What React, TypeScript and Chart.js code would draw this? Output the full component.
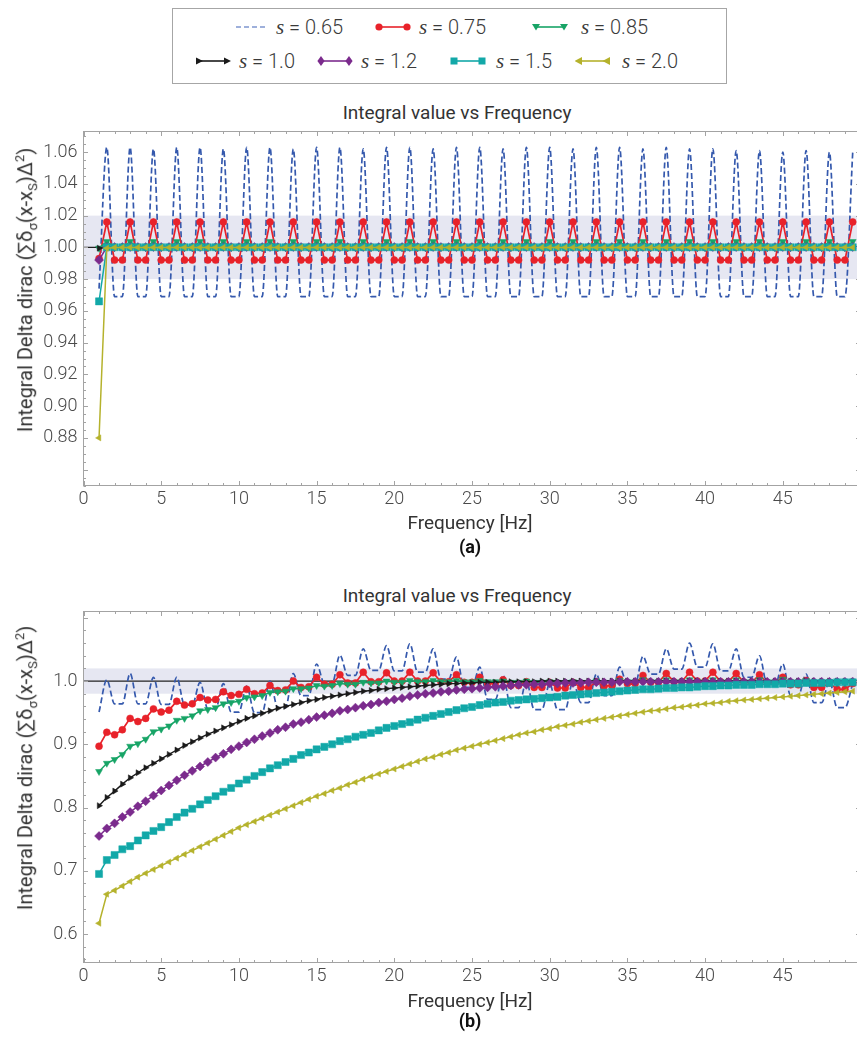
import React, { useEffect, useRef } from 'react';
import { Chart, registerables } from 'chart.js';

Chart.register(...registerables);

// ---------------- data ----------------
const FREQ = [
  1, 1.5, 2, 2.5, 3, 3.5, 4, 4.5, 5, 5.5, 6, 6.5, 7, 7.5, 8, 8.5, 9, 9.5, 10, 10.5,
  11, 11.5, 12, 12.5, 13, 13.5, 14, 14.5, 15, 15.5, 16, 16.5, 17, 17.5, 18, 18.5, 19, 19.5, 20, 20.5,
  21, 21.5, 22, 22.5, 23, 23.5, 24, 24.5, 25, 25.5, 26, 26.5, 27, 27.5, 28, 28.5, 29, 29.5, 30, 30.5,
  31, 31.5, 32, 32.5, 33, 33.5, 34, 34.5, 35, 35.5, 36, 36.5, 37, 37.5, 38, 38.5, 39, 39.5, 40, 40.5,
  41, 41.5, 42, 42.5, 43, 43.5, 44, 44.5, 45, 45.5, 46, 46.5, 47, 47.5, 48, 48.5, 49, 49.5,
];

const LEGEND_LABELS = ['0.65', '0.75', '0.85', '1.0', '1.2', '1.5', '2.0'];
const X_TICKS = [0, 5, 10, 15, 20, 25, 30, 35, 40, 45];
const TOP_Y_TICKS = [0.88, 0.9, 0.92, 0.94, 0.96, 0.98, 1.0, 1.02, 1.04, 1.06];
const BOT_Y_TICKS = [0.6, 0.7, 0.8, 0.9, 1.0];

// (a) top panel
const TOP_S065 = [
  0.974,
  1.063, 0.969, 0.969, 1.063, 0.969, 0.969, 1.062, 0.969, 0.969, 1.063, 0.969, 0.969,
  1.063, 0.969, 0.969, 1.062, 0.969, 0.969, 1.063, 0.969, 0.969, 1.063, 0.969, 0.969,
  1.062, 0.969, 0.969, 1.063, 0.969, 0.969, 1.063, 0.969, 0.969, 1.062, 0.969, 0.969,
  1.063, 0.969, 0.969, 1.063, 0.969, 0.969, 1.062, 0.969, 0.969, 1.063, 0.969, 0.969,
  1.063, 0.969, 0.969, 1.062, 0.969, 0.969, 1.063, 0.969, 0.969, 1.063, 0.969, 0.969,
  1.062, 0.969, 0.969, 1.063, 0.969, 0.969, 1.063, 0.969, 0.969, 1.062, 0.969, 0.969,
  1.063, 0.969, 0.969, 1.062, 0.969, 0.969, 1.062, 0.969, 0.969, 1.061, 0.969, 0.969,
  1.061, 0.969, 0.969, 1.060, 0.969, 0.969, 1.061, 0.969, 0.969, 1.060, 0.969, 0.969,
  1.060,
];
const TOP_S075 = [
  0.993,
  1.016, 0.992, 0.992, 1.016, 0.992, 0.992, 1.016, 0.992, 0.992, 1.016, 0.992, 0.992,
  1.016, 0.992, 0.992, 1.016, 0.992, 0.992, 1.016, 0.992, 0.992, 1.016, 0.992, 0.992,
  1.016, 0.992, 0.992, 1.016, 0.992, 0.992, 1.016, 0.992, 0.992, 1.016, 0.992, 0.992,
  1.016, 0.992, 0.992, 1.016, 0.992, 0.992, 1.016, 0.992, 0.992, 1.016, 0.992, 0.992,
  1.016, 0.992, 0.992, 1.016, 0.992, 0.992, 1.016, 0.992, 0.992, 1.016, 0.992, 0.992,
  1.016, 0.992, 0.992, 1.016, 0.992, 0.992, 1.016, 0.992, 0.992, 1.016, 0.992, 0.992,
  1.016, 0.992, 0.992, 1.016, 0.992, 0.992, 1.016, 0.992, 0.992, 1.016, 0.992, 0.992,
  1.016, 0.992, 0.992, 1.016, 0.992, 0.992, 1.016, 0.992, 0.992, 1.016, 0.992, 0.992,
  1.016,
];
const TOP_S085 = [
  0.9995,
  1.0037, 0.9997, 0.9997, 1.0037, 0.9997, 0.9997, 1.0037, 0.9997, 0.9997, 1.0037, 0.9997, 0.9997,
  1.0037, 0.9997, 0.9997, 1.0037, 0.9997, 0.9997, 1.0037, 0.9997, 0.9997, 1.0037, 0.9997, 0.9997,
  1.0037, 0.9997, 0.9997, 1.0037, 0.9997, 0.9997, 1.0037, 0.9997, 0.9997, 1.0037, 0.9997, 0.9997,
  1.0037, 0.9997, 0.9997, 1.0037, 0.9997, 0.9997, 1.0037, 0.9997, 0.9997, 1.0037, 0.9997, 0.9997,
  1.0037, 0.9997, 0.9997, 1.0037, 0.9997, 0.9997, 1.0037, 0.9997, 0.9997, 1.0037, 0.9997, 0.9997,
  1.0037, 0.9997, 0.9997, 1.0037, 0.9997, 0.9997, 1.0037, 0.9997, 0.9997, 1.0037, 0.9997, 0.9997,
  1.0037, 0.9997, 0.9997, 1.0037, 0.9997, 0.9997, 1.0037, 0.9997, 0.9997, 1.0037, 0.9997, 0.9997,
  1.0037, 0.9997, 0.9997, 1.0037, 0.9997, 0.9997, 1.0037, 0.9997, 0.9997, 1.0037, 0.9997, 0.9997,
  1.0037,
];
const TOP_S10 = [
  0.9995,
  1.0, 1.0, 1.0, 1.0, 1.0, 1.0, 1.0, 1.0, 1.0, 1.0, 1.0, 1.0,
  1.0, 1.0, 1.0, 1.0, 1.0, 1.0, 1.0, 1.0, 1.0, 1.0, 1.0, 1.0,
  1.0, 1.0, 1.0, 1.0, 1.0, 1.0, 1.0, 1.0, 1.0, 1.0, 1.0, 1.0,
  1.0, 1.0, 1.0, 1.0, 1.0, 1.0, 1.0, 1.0, 1.0, 1.0, 1.0, 1.0,
  1.0, 1.0, 1.0, 1.0, 1.0, 1.0, 1.0, 1.0, 1.0, 1.0, 1.0, 1.0,
  1.0, 1.0, 1.0, 1.0, 1.0, 1.0, 1.0, 1.0, 1.0, 1.0, 1.0, 1.0,
  1.0, 1.0, 1.0, 1.0, 1.0, 1.0, 1.0, 1.0, 1.0, 1.0, 1.0, 1.0,
  1.0, 1.0, 1.0, 1.0, 1.0, 1.0, 1.0, 1.0, 1.0, 1.0, 1.0, 1.0,
  1.0,
];
const TOP_S12 = [
  0.992,
  1.0002, 1.0002, 1.0002, 1.0002, 1.0002, 1.0002, 1.0002, 1.0002, 1.0002, 1.0002, 1.0002, 1.0002,
  1.0002, 1.0002, 1.0002, 1.0002, 1.0002, 1.0002, 1.0002, 1.0002, 1.0002, 1.0002, 1.0002, 1.0002,
  1.0002, 1.0002, 1.0002, 1.0002, 1.0002, 1.0002, 1.0002, 1.0002, 1.0002, 1.0002, 1.0002, 1.0002,
  1.0002, 1.0002, 1.0002, 1.0002, 1.0002, 1.0002, 1.0002, 1.0002, 1.0002, 1.0002, 1.0002, 1.0002,
  1.0002, 1.0002, 1.0002, 1.0002, 1.0002, 1.0002, 1.0002, 1.0002, 1.0002, 1.0002, 1.0002, 1.0002,
  1.0002, 1.0002, 1.0002, 1.0002, 1.0002, 1.0002, 1.0002, 1.0002, 1.0002, 1.0002, 1.0002, 1.0002,
  1.0002, 1.0002, 1.0002, 1.0002, 1.0002, 1.0002, 1.0002, 1.0002, 1.0002, 1.0002, 1.0002, 1.0002,
  1.0002, 1.0002, 1.0002, 1.0002, 1.0002, 1.0002, 1.0002, 1.0002, 1.0002, 1.0002, 1.0002, 1.0002,
  1.0002,
];
const TOP_S15 = [
  0.966,
  1.0001, 1.0001, 1.0001, 1.0001, 1.0001, 1.0001, 1.0001, 1.0001, 1.0001, 1.0001, 1.0001, 1.0001,
  1.0001, 1.0001, 1.0001, 1.0001, 1.0001, 1.0001, 1.0001, 1.0001, 1.0001, 1.0001, 1.0001, 1.0001,
  1.0001, 1.0001, 1.0001, 1.0001, 1.0001, 1.0001, 1.0001, 1.0001, 1.0001, 1.0001, 1.0001, 1.0001,
  1.0001, 1.0001, 1.0001, 1.0001, 1.0001, 1.0001, 1.0001, 1.0001, 1.0001, 1.0001, 1.0001, 1.0001,
  1.0001, 1.0001, 1.0001, 1.0001, 1.0001, 1.0001, 1.0001, 1.0001, 1.0001, 1.0001, 1.0001, 1.0001,
  1.0001, 1.0001, 1.0001, 1.0001, 1.0001, 1.0001, 1.0001, 1.0001, 1.0001, 1.0001, 1.0001, 1.0001,
  1.0001, 1.0001, 1.0001, 1.0001, 1.0001, 1.0001, 1.0001, 1.0001, 1.0001, 1.0001, 1.0001, 1.0001,
  1.0001, 1.0001, 1.0001, 1.0001, 1.0001, 1.0001, 1.0001, 1.0001, 1.0001, 1.0001, 1.0001, 1.0001,
  1.0001,
];
const TOP_S20 = [
  0.880,
  0.9995, 1.0, 1.0, 1.0, 1.0, 1.0, 1.0, 1.0, 1.0, 1.0, 1.0, 1.0,
  1.0, 1.0, 1.0, 1.0, 1.0, 1.0, 1.0, 1.0, 1.0, 1.0, 1.0, 1.0,
  1.0, 1.0, 1.0, 1.0, 1.0, 1.0, 1.0, 1.0, 1.0, 1.0, 1.0, 1.0,
  1.0, 1.0, 1.0, 1.0, 1.0, 1.0, 1.0, 1.0, 1.0, 1.0, 1.0, 1.0,
  1.0, 1.0, 1.0, 1.0, 1.0, 1.0, 1.0, 1.0, 1.0, 1.0, 1.0, 1.0,
  1.0, 1.0, 1.0, 1.0, 1.0, 1.0, 1.0, 1.0, 1.0, 1.0, 1.0, 1.0,
  1.0, 1.0, 1.0, 1.0, 1.0, 1.0, 1.0, 1.0, 1.0, 1.0, 1.0, 1.0,
  1.0, 1.0, 1.0, 1.0, 1.0, 1.0, 1.0, 1.0, 1.0, 1.0, 1.0, 1.0,
  1.0,
];

// (b) bottom panel
const BOT_S065 = [
  0.951,
  1.002, 0.964, 0.964, 1.012, 0.964, 0.964, 1.006, 0.963, 0.963, 1.006, 0.962, 0.962,
  0.998, 0.956, 0.956, 0.996, 0.951, 0.951, 0.992, 0.950, 0.950, 1.000, 0.958, 0.958,
  1.012, 0.977, 0.977, 1.027, 0.996, 0.996, 1.041, 1.009, 1.009, 1.051, 1.017, 1.017,
  1.056, 1.016, 1.016, 1.059, 1.014, 1.014, 1.051, 1.003, 1.003, 1.038, 0.990, 0.990,
  1.022, 0.971, 0.971, 1.009, 0.958, 0.958, 1.000, 0.955, 0.955, 0.996, 0.955, 0.955,
  1.000, 0.966, 0.966, 1.011, 0.977, 0.977, 1.022, 0.995, 0.995, 1.039, 1.011, 1.011,
  1.051, 1.019, 1.019, 1.060, 1.022, 1.022, 1.059, 1.016, 1.016, 1.051, 1.006, 1.006,
  1.040, 0.993, 0.993, 1.027, 0.977, 0.977, 1.011, 0.966, 0.966, 1.000, 0.958, 0.958,
  0.996,
];
const BOT_S075 = [
  0.897,
  0.919, 0.915, 0.923, 0.941, 0.936, 0.941, 0.956, 0.951, 0.954, 0.968, 0.962, 0.964,
  0.974, 0.970, 0.971, 0.983, 0.977, 0.979, 0.987, 0.980, 0.981, 0.993, 0.985, 0.986,
  1.000, 0.990, 0.991, 1.006, 0.995, 0.995, 1.010, 0.997, 0.997, 1.014, 0.999, 0.999,
  1.013, 1.000, 1.000, 1.014, 1.000, 1.000, 1.013, 0.999, 0.999, 1.010, 0.998, 0.998,
  1.006, 0.996, 0.996, 1.002, 0.993, 0.993, 0.999, 0.990, 0.990, 0.998, 0.989, 0.989,
  0.998, 0.990, 0.990, 0.999, 0.992, 0.993, 1.003, 0.996, 0.996, 1.009, 0.998, 0.998,
  1.012, 0.999, 0.999, 1.014, 1.000, 1.000, 1.014, 0.999, 0.999, 1.012, 0.998, 0.998,
  1.010, 0.997, 0.997, 1.006, 0.994, 0.994, 1.001, 0.990, 0.990, 0.997, 0.987, 0.987,
  0.996,
];
const BOT_S085 = [
  0.857,
  0.870, 0.876, 0.884, 0.897, 0.901, 0.908, 0.920, 0.924, 0.929, 0.938, 0.941, 0.945,
  0.953, 0.955, 0.958, 0.964, 0.966, 0.968, 0.974, 0.975, 0.977, 0.982, 0.983, 0.984,
  0.988, 0.988, 0.989, 0.993, 0.992, 0.993, 0.996, 0.995, 0.995, 0.998, 0.997, 0.997,
  1.000, 0.998, 0.998, 1.001, 0.999, 0.999, 1.001, 0.999, 0.999, 1.001, 0.999, 0.999,
  1.001, 0.999, 0.999, 1.000, 0.998, 0.998, 1.000, 0.998, 0.998, 0.999, 0.998, 0.998,
  0.999, 0.998, 0.998, 1.000, 0.998, 0.998, 1.001, 0.999, 0.999, 1.002, 0.999, 0.999,
  1.002, 0.999, 0.999, 1.002, 0.999, 0.999, 1.002, 0.999, 0.999, 1.002, 0.999, 0.999,
  1.002, 0.999, 0.999, 1.003, 0.999, 0.999, 1.001, 0.998, 0.998, 0.999, 0.997, 0.997,
  0.999,
];
const BOT_S10 = [
  0.803,
  0.816, 0.826, 0.837, 0.847, 0.855, 0.863, 0.870, 0.877, 0.884, 0.891, 0.898, 0.904,
  0.910, 0.916, 0.921, 0.926, 0.931, 0.936, 0.941, 0.945, 0.949, 0.953, 0.957, 0.960,
  0.963, 0.966, 0.969, 0.971, 0.974, 0.976, 0.978, 0.980, 0.982, 0.984, 0.985, 0.987,
  0.988, 0.989, 0.990, 0.991, 0.992, 0.993, 0.994, 0.995, 0.996, 0.996, 0.997, 0.997,
  0.998, 0.998, 0.998, 0.999, 0.999, 0.999, 0.999, 0.999, 1.000, 1.000, 1.000, 1.000,
  1.000, 1.000, 1.000, 1.000, 1.000, 1.000, 1.000, 1.000, 1.000, 1.000, 1.000, 1.000,
  1.000, 1.000, 1.000, 1.000, 1.000, 1.000, 1.000, 1.000, 1.000, 1.000, 1.000, 1.000,
  1.000, 1.000, 1.000, 1.000, 1.000, 1.000, 1.000, 1.000, 1.000, 1.000, 1.000, 1.000,
  1.000,
];
const BOT_S12 = [
  0.755,
  0.767, 0.775, 0.785, 0.793, 0.802, 0.810, 0.819, 0.827, 0.835, 0.843, 0.851, 0.858,
  0.865, 0.872, 0.879, 0.885, 0.892, 0.897, 0.903, 0.908, 0.913, 0.918, 0.923, 0.927,
  0.932, 0.935, 0.939, 0.943, 0.946, 0.949, 0.953, 0.955, 0.958, 0.961, 0.963, 0.966,
  0.968, 0.971, 0.973, 0.976, 0.978, 0.980, 0.981, 0.983, 0.984, 0.986, 0.987, 0.988,
  0.989, 0.990, 0.991, 0.992, 0.993, 0.994, 0.994, 0.995, 0.995, 0.996, 0.996, 0.997,
  0.997, 0.997, 0.998, 0.998, 0.998, 0.998, 0.999, 0.999, 0.999, 0.999, 0.999, 0.999,
  0.999, 0.999, 0.999, 0.999, 0.999, 0.999, 0.999, 0.999, 0.999, 0.999, 0.999, 0.999,
  0.999, 0.999, 0.999, 0.999, 0.999, 0.999, 0.999, 0.999, 0.999, 0.999, 0.999, 0.999,
  0.999,
];
const BOT_S15 = [
  0.695,
  0.717, 0.725, 0.734, 0.739, 0.748, 0.756, 0.763, 0.769, 0.777, 0.785, 0.792, 0.798,
  0.805, 0.812, 0.818, 0.825, 0.831, 0.838, 0.844, 0.850, 0.856, 0.862, 0.867, 0.872,
  0.877, 0.883, 0.887, 0.892, 0.896, 0.900, 0.905, 0.908, 0.912, 0.915, 0.918, 0.922,
  0.926, 0.929, 0.932, 0.935, 0.939, 0.942, 0.945, 0.948, 0.951, 0.954, 0.957, 0.959,
  0.962, 0.964, 0.966, 0.967, 0.969, 0.970, 0.971, 0.972, 0.973, 0.974, 0.975, 0.977,
  0.978, 0.979, 0.980, 0.981, 0.982, 0.983, 0.984, 0.985, 0.986, 0.987, 0.987, 0.988,
  0.989, 0.989, 0.990, 0.990, 0.991, 0.992, 0.992, 0.993, 0.993, 0.994, 0.994, 0.994,
  0.995, 0.995, 0.995, 0.996, 0.996, 0.996, 0.997, 0.997, 0.997, 0.997, 0.998, 0.998,
  0.998,
];
const BOT_S20 = [
  0.617,
  0.663, 0.669, 0.676, 0.683, 0.690, 0.696, 0.702, 0.708, 0.714, 0.720, 0.726, 0.732,
  0.738, 0.744, 0.750, 0.756, 0.762, 0.768, 0.773, 0.778, 0.783, 0.788, 0.793, 0.798,
  0.803, 0.808, 0.813, 0.818, 0.822, 0.827, 0.831, 0.836, 0.840, 0.845, 0.849, 0.853,
  0.857, 0.861, 0.865, 0.869, 0.873, 0.877, 0.880, 0.884, 0.887, 0.891, 0.894, 0.897,
  0.900, 0.903, 0.906, 0.909, 0.912, 0.915, 0.918, 0.920, 0.923, 0.925, 0.928, 0.930,
  0.932, 0.935, 0.937, 0.939, 0.941, 0.943, 0.945, 0.947, 0.949, 0.951, 0.953, 0.954,
  0.956, 0.958, 0.959, 0.961, 0.962, 0.964, 0.965, 0.966, 0.968, 0.969, 0.970, 0.971,
  0.972, 0.973, 0.974, 0.975, 0.976, 0.977, 0.978, 0.979, 0.980, 0.981, 0.982, 0.983,
  0.984,
];

// ---------------- styles ----------------
const FONT = 'Roboto, "Open Sans", sans-serif';
const STYLES: any[] = [
  { color: '#3559ad', legend: '#7f97cf', width: 1.7, dash: [6, 3], point: false, radius: 0, rot: 0, marker: 'none' },
  { color: '#e8222a', width: 1.7, point: 'circle', radius: 3.5, rot: 0, marker: 'circle' },
  { color: '#17a466', width: 1.5, point: 'triangle', radius: 4, rot: 180, marker: 'tri-down' },
  { color: '#1a1a1a', width: 1.4, point: 'triangle', radius: 3.5, rot: 90, marker: 'tri-right' },
  { color: '#7b2b8d', width: 1.5, point: 'rectRot', radius: 4.5, rot: 0, marker: 'diamond' },
  { color: '#12a8a8', width: 1.5, point: 'rect', radius: 5, rot: 0, marker: 'square' },
  { color: '#b5b22c', width: 1.5, point: 'triangle', radius: 3.5, rot: -90, marker: 'tri-left' },
];

function buildDatasets(series: number[][]) {
  return STYLES.map((st, k) => ({
    label: 's = ' + LEGEND_LABELS[k],
    data: FREQ.map((f, i) => ({ x: f, y: series[k][i] })),
    borderColor: st.color,
    backgroundColor: st.color,
    borderWidth: st.width,
    borderDash: st.dash || [],
    pointStyle: st.point,
    pointRadius: st.radius,
    pointRotation: st.rot,
    pointBorderWidth: 0.5,
    pointBorderColor: st.color,
    pointBackgroundColor: st.color,
    cubicInterpolationMode: st.dash ? 'monotone' : 'default',
    tension: 0,
    order: 6 - k,
  }));
}

const framePlugin = {
  id: 'frame',
  beforeDatasetsDraw(chart: any, _a: any, o: any) {
    const { ctx, chartArea: a } = chart;
    const y = chart.scales.y;
    ctx.save();
    ctx.beginPath();
    ctx.rect(a.left, a.top, a.right - a.left, a.bottom - a.top);
    ctx.clip();
    const yt = y.getPixelForValue(o.bandHi);
    const yb = y.getPixelForValue(o.bandLo);
    ctx.fillStyle = '#e6e7f2';
    ctx.fillRect(a.left, yt, a.right - a.left, yb - yt);
    const yr = y.getPixelForValue(o.refValue);
    ctx.strokeStyle = '#222222';
    ctx.lineWidth = 1.3;
    ctx.beginPath();
    ctx.moveTo(a.left, yr);
    ctx.lineTo(a.right, yr);
    ctx.stroke();
    ctx.restore();
  },
  afterDatasetsDraw(chart: any, _a: any, o: any) {
    const { ctx, chartArea: a } = chart;
    const x = chart.scales.x;
    const y = chart.scales.y;
    ctx.save();
    ctx.strokeStyle = '#a3a3a3';
    ctx.lineWidth = 1;
    ctx.strokeRect(a.left, a.top, a.right - a.left, a.bottom - a.top);
    const seg = (x1: number, y1: number, x2: number, y2: number) => {
      ctx.beginPath();
      ctx.moveTo(x1, y1);
      ctx.lineTo(x2, y2);
      ctx.stroke();
    };
    const k0 = Math.ceil(x.min / o.xMinor - 1e-9);
    const k1 = Math.floor(x.max / o.xMinor + 1e-9);
    for (let k = k0; k <= k1; k++) {
      const px = Math.round(x.getPixelForValue(k * o.xMinor)) + 0.5;
      const len = k % o.xRatio === 0 ? 4.5 : 2.5;
      seg(px, a.bottom, px, a.bottom - len);
      seg(px, a.top, px, a.top + len);
    }
    const j0 = Math.ceil(y.min / o.yMinor - 1e-9);
    const j1 = Math.floor(y.max / o.yMinor + 1e-9);
    for (let j = j0; j <= j1; j++) {
      const py = Math.round(y.getPixelForValue(j * o.yMinor)) + 0.5;
      const len = j % o.yRatio === 0 ? 4.5 : 2.5;
      seg(a.left, py, a.left + len, py);
      seg(a.right, py, a.right - len, py);
    }
    ctx.restore();
  },
};

function makeConfig(series: number[][], yMin: number, yMax: number, yTicks: number[], dec: number,
  xAxisH: number, yMinor: number, yRatio: number): any {
  return {
    type: 'line',
    data: { datasets: buildDatasets(series) },
    plugins: [framePlugin],
    options: {
      responsive: false,
      animation: false,
      devicePixelRatio: 1,
      events: [],
      layout: { padding: { top: 31.5, right: 3, left: 0, bottom: 0 } },
      plugins: {
        legend: { display: false },
        tooltip: { enabled: false },
        title: { display: false },
        frame: { bandLo: 0.98, bandHi: 1.02, refValue: 1.0, xMinor: 1, xRatio: 5, yMinor, yRatio },
      },
      scales: {
        x: {
          type: 'linear',
          min: 0,
          max: 50,
          grid: { display: false, drawTicks: false },
          border: { display: false },
          ticks: {
            color: '#4a4a4a',
            font: { family: FONT, size: 18, weight: '300' },
            padding: 3,
            maxRotation: 0,
            autoSkip: false,
            callback: (v: any) => String(v),
          },
          afterBuildTicks: (s: any) => { s.ticks = X_TICKS.map((v) => ({ value: v })); },
          afterFit: (s: any) => { s.height = xAxisH; },
        },
        y: {
          type: 'linear',
          min: yMin,
          max: yMax,
          grid: { display: false, drawTicks: false },
          border: { display: false },
          ticks: {
            color: '#4a4a4a',
            font: { family: FONT, size: 18, weight: '300' },
            padding: 6,
            autoSkip: false,
            callback: (v: any) => Number(v).toFixed(dec),
          },
          afterBuildTicks: (s: any) => { s.ticks = yTicks.map((v) => ({ value: v })); },
          afterFit: (s: any) => { s.width = 83.5; },
        },
      },
    },
  };
}

function ChartCanvas({ top, height, config }: { top: number; height: number; config: () => any }) {
  const ref = useRef<HTMLCanvasElement>(null);
  useEffect(() => {
    const chart = new Chart(ref.current as HTMLCanvasElement, config());
    return () => chart.destroy();
  }, []);
  return (
    <canvas
      ref={ref}
      width={866}
      height={height}
      style={{ position: 'absolute', left: 0, top, width: 866, height }}
    />
  );
}

function Marker({ kind, cx, cy, color }: { kind: string; cx: number; cy: number; color: string }) {
  switch (kind) {
    case 'circle':
      return <circle cx={cx} cy={cy} r={3.6} fill={color} />;
    case 'square':
      return <rect x={cx - 3.5} y={cy - 3.5} width={7} height={7} fill={color} />;
    case 'diamond':
      return <polygon points={`${cx},${cy - 5} ${cx + 3.6},${cy} ${cx},${cy + 5} ${cx - 3.6},${cy}`} fill={color} />;
    case 'tri-down':
      return <polygon points={`${cx - 4},${cy - 3} ${cx + 4},${cy - 3} ${cx},${cy + 3.5}`} fill={color} />;
    case 'tri-right':
      return <polygon points={`${cx - 3},${cy - 3.5} ${cx - 3},${cy + 3.5} ${cx + 4},${cy}`} fill={color} />;
    case 'tri-left':
      return <polygon points={`${cx + 3},${cy - 4} ${cx + 3},${cy + 4} ${cx - 4.5},${cy}`} fill={color} />;
    default:
      return null;
  }
}

const LEG_POS = [
  { row: 0, sx: 233, tx: 276 },
  { row: 0, sx: 375, tx: 419 },
  { row: 0, sx: 532, tx: 581 },
  { row: 1, sx: 195, tx: 239 },
  { row: 1, sx: 317, tx: 361 },
  { row: 1, sx: 450, tx: 496 },
  { row: 1, sx: 575, tx: 622 },
];
const ROW_Y = [27, 61];

function Legend() {
  return (
    <div>
      <div
        style={{
          position: 'absolute', left: 172, top: 8, width: 553, height: 74,
          border: '1.5px solid #a6a6a6', boxSizing: 'content-box',
        }}
      />
      {STYLES.map((st, k) => {
        const p = LEG_POS[k];
        const cy = ROW_Y[p.row];
        const col = st.legend || st.color;
        return (
          <React.Fragment key={k}>
            <svg width={36} height={14} style={{ position: 'absolute', left: p.sx, top: cy - 7 }}>
              <line x1={3} y1={7} x2={33} y2={7} stroke={col} strokeWidth={1.6}
                strokeDasharray={st.dash ? '5 3' : undefined} />
              <Marker kind={st.marker} cx={4} cy={7} color={col} />
              <Marker kind={st.marker} cx={32} cy={7} color={col} />
            </svg>
            <div
              style={{
                position: 'absolute', left: p.tx, top: cy - 13, height: 26, lineHeight: '26px',
                whiteSpace: 'nowrap', color: '#3a3a3a', fontFamily: FONT, fontWeight: 300, fontSize: 20,
              }}
            >
              <span style={{ fontFamily: '"Liberation Serif", "DejaVu Serif", serif', fontStyle: 'italic', fontSize: 21 }}>s</span>
              {' = ' + LEGEND_LABELS[k]}
            </div>
          </React.Fragment>
        );
      })}
    </div>
  );
}

function CenterText({ x, y, size, bold, children }: any) {
  return (
    <div
      style={{
        position: 'absolute', left: x, top: y, transform: 'translate(-50%, -50%)',
        whiteSpace: 'nowrap', fontFamily: FONT, fontSize: size, fontWeight: bold ? 700 : 400,
        color: bold ? '#111' : '#333', lineHeight: 1,
      }}
    >
      {children}
    </div>
  );
}

function YTitle({ y }: { y: number }) {
  return (
    <div
      style={{
        position: 'absolute', left: 26, top: y, transform: 'translate(-50%, -50%) rotate(-90deg)',
        whiteSpace: 'nowrap', fontFamily: FONT, fontSize: 20, color: '#333', lineHeight: 1,
      }}
    >
      Integral Delta dirac (∑δ<sub style={{ fontSize: '0.65em' }}>σ</sub>(x-x<sub style={{ fontSize: '0.65em' }}>S</sub>)Δ<sup style={{ fontSize: '0.65em' }}>2</sup>)
    </div>
  );
}

export default function App() {
  const topSeries = [TOP_S065, TOP_S075, TOP_S085, TOP_S10, TOP_S12, TOP_S15, TOP_S20];
  const botSeries = [BOT_S065, BOT_S075, BOT_S085, BOT_S10, BOT_S12, BOT_S15, BOT_S20];
  return (
    <div style={{ position: 'absolute', left: 0, top: 0, width: 857, height: 1042, overflow: 'hidden', background: '#fff' }}>
      <Legend />
      <CenterText x={457} y={112} size={19}>Integral value vs Frequency</CenterText>
      <ChartCanvas top={100} height={416}
        config={() => makeConfig(topSeries, 0.85, 1.073, TOP_Y_TICKS, 2, 30.5, 0.005, 4)} />
      <YTitle y={290} />
      <CenterText x={470} y={522} size={19}>Frequency [Hz]</CenterText>
      <CenterText x={470} y={547} size={18} bold>(a)</CenterText>

      <CenterText x={457} y={595} size={19}>Integral value vs Frequency</CenterText>
      <ChartCanvas top={580} height={416}
        config={() => makeConfig(botSeries, 0.555, 1.11, BOT_Y_TICKS, 1, 33.5, 0.02, 5)} />
      <YTitle y={768} />
      <CenterText x={470} y={1000} size={19}>Frequency [Hz]</CenterText>
      <CenterText x={470} y={1021} size={18} bold>(b)</CenterText>
    </div>
  );
}
